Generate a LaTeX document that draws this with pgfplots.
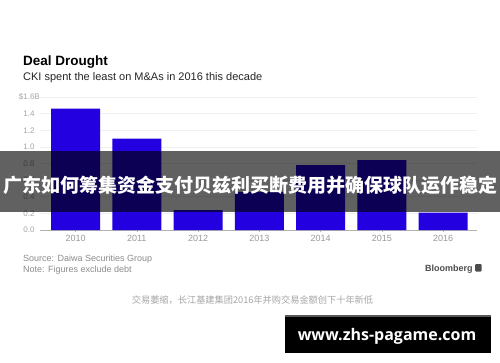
\documentclass[border=0pt]{standalone}
\usepackage{pgfplots}
\pgfplotsset{compat=1.18}
\usepackage{fontspec}
\setmainfont{Liberation Sans}
\newfontfamily\cjk{Noto Sans CJK SC}
\newfontfamily\wm{Open Sans}
\definecolor{barblue}{RGB}{34,0,224}
\begin{document}
\begin{tikzpicture}[x=1pt,y=1pt]
\path[use as bounding box, fill=white] (0,0) rectangle (500,362);
\node[anchor=base west, inner sep=0, font=\bfseries\fontsize{13.5}{16}\selectfont] at (23,{362-66}) {Deal Drought};
\node[anchor=base west, inner sep=0, font=\fontsize{11}{13}\selectfont, text=black!85] at (23,{362-80.7}) {CKI spent the least on M\&As in 2016 this decade};
\begin{axis}[at={(40pt,132pt)}, anchor=south west, scale only axis,
  width=437pt, height=133pt,
  xmin=-0.58, xmax=6.555, ymin=0, ymax=1.6,
  ybar, bar width=49pt,
  axis x line*=bottom, axis y line*=left,
  y axis line style={draw=none},
  x axis line style={gray!60, -},
  ytick={0,0.2,0.4,0.6,0.8,1.0,1.2,1.4,1.6},
  yticklabels={0.0,0.2,0.4,0.6,0.8,1.0,1.2,1.4,\llap{\$}1.6\rlap{B}},
  ymajorgrids, grid style={gray!12, line width=0.6pt},
  ytick style={draw=none},
  xtick={0,1,2,3,4,5,6},
  xticklabels={2010,2011,2012,2013,2014,2015,2016},
  xtick style={gray!60, line width=0.5pt},
  tick align=outside, major tick length=2pt,
  yticklabel style={font=\fontsize{8}{9}\selectfont, text=gray!70},
  xticklabel style={font=\fontsize{9}{10}\selectfont, text=gray!80},
  clip=false]
\addplot[fill=barblue, draw=none] coordinates {(0,1.46) (1,1.10) (2,0.24) (3,0.46) (4,0.78) (5,0.84) (6,0.21)};
\end{axis}
\node[anchor=base west, inner sep=0, font=\fontsize{9}{10}\selectfont, text=gray!90] at (23,{362-261.7}) {Source: Daiwa Securities Group};
\node[anchor=base west, inner sep=0, font=\fontsize{9}{10}\selectfont, text=gray!90] at (23,{362-272.3}) {Note: Figures exclude debt};
\node[anchor=base east, inner sep=0, font=\bfseries\fontsize{9}{10}\selectfont, text=black!70] at (472.7,{362-271.7}) {Bloomberg};
\fill[black!70, rounded corners=1pt] (475,{362-271.5}) rectangle (481.5,{362-264});
\node[anchor=base, inner sep=0, font=\cjk\fontsize{9.2}{10}\selectfont, text=gray!70] at (252.5,{362-303}) {交易萎缩，长江基建集团2016年并购交易金额创下十年新低};
\fill[black, opacity=0.62] (0,{362-212}) rectangle (500,{362-151});
\node[font=\cjk\bfseries\fontsize{19}{20}\selectfont, text=white, inner sep=0] at (250,{362-185}) {广东如何筹集资金支付贝兹利买断费用并确保球队运作稳定};
\fill[black] (285,{362-353}) rectangle (491,{362-315});
\fill[gray!70!black] (285,{362-317}) rectangle (491,{362-315});
\node[font=\wm\bfseries\fontsize{16}{18}\selectfont, text=white, inner sep=0] at (387,{362-336}) {www.zhs-pagame.com};
\end{tikzpicture}
\end{document}
